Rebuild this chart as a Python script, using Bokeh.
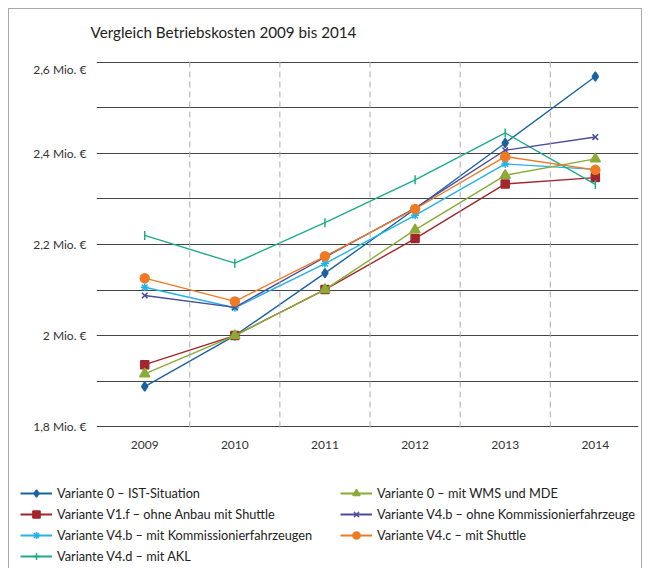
from bokeh.plotting import figure
from bokeh.models import (FixedTicker, Span, Legend, LegendItem, Label, Spacer)
from bokeh.layouts import column, row
from bokeh.embed import file_html
from bokeh.resources import INLINE
import math

years = [2009, 2010, 2011, 2012, 2013, 2014]

v0_ist = [1.888, 2.000, 2.137, 2.278, 2.423, 2.569]
v0_wms = [1.916, 2.000, 2.101, 2.232, 2.352, 2.388]
v1f_shuttle = [1.936, 2.000, 2.101, 2.213, 2.333, 2.347]
v4b_ohne = [2.088, 2.062, 2.172, 2.280, 2.407, 2.436]
v4b_mit = [2.106, 2.061, 2.158, 2.264, 2.377, 2.365]
v4c_shuttle = [2.126, 2.075, 2.174, 2.278, 2.393, 2.364]
v4d_akl = [2.220, 2.159, 2.248, 2.342, 2.445, 2.332]

y_ticks = [1.8, 2.0, 2.2, 2.4, 2.6]
y_tick_labels = ["1,8 Mio. €", "2 Mio. €", "2,2 Mio. €", "2,4 Mio. €", "2,6 Mio. €"]
y_grid = [1.8, 1.9, 2.0, 2.1, 2.2, 2.3, 2.4, 2.5, 2.6]

title_text = "Vergleich Betriebskosten 2009 bis 2014"

# name, values, colour, chart marker, size, angle, legend marker
series = [
    ("Variante 0 – IST-Situation", v0_ist, "#1b62a0", "diamond", 9, 0, "diamond"),
    ("Variante V1.f – ohne Anbau mit Shuttle", v1f_shuttle, "#a3262c", "square", 8, 0, "square"),
    ("Variante V4.b – mit Kommissionierfahrzeugen", v4b_mit, "#25b2e8", "asterisk", 8, 0, "asterisk"),
    ("Variante V4.d – mit AKL", v4d_akl, "#1fab8c", "dash", 9, math.pi / 2, "cross"),
    ("Variante 0 – mit WMS und MDE", v0_wms, "#8bab36", "triangle", 10, 0, "triangle"),
    ("Variante V4.b – ohne Kommissionierfahrzeuge", v4b_ohne, "#4b4a9e", "x", 8, 0, "x"),
    ("Variante V4.c – mit Shuttle", v4c_shuttle, "#f07a24", "circle", 9, 0, "circle"),
]

FONT = "Lato"
BORDER = "1px solid #a8a8a8"


def blank_fig(height, styles):
    f = figure(width=634, height=height, output_backend="svg", toolbar_location=None,
               x_range=(0, 1), y_range=(0, 1), x_axis_type=None, y_axis_type=None,
               min_border=0)
    f.styles = styles
    f.frame_align = False
    f.outline_line_color = None
    f.grid.grid_line_color = None
    f.background_fill_color = "white"
    f.border_fill_color = "white"
    return f


# title strip
p0 = blank_fig(53, {"border-left": BORDER, "border-top": BORDER, "border-right": BORDER,
                    "box-sizing": "border-box"})
p0.add_layout(Label(x=81, y=31, x_units="screen", y_units="screen", text=title_text,
                    text_font=FONT, text_font_size="15.2px", text_color="#222222",
                    text_baseline="middle", text_align="left"))

# main chart
p = figure(width=634, height=409, output_backend="svg", toolbar_location=None,
           x_range=(2008.465, 2014.479), y_range=(1.798, 2.602),
           min_border_left=87, min_border_right=5, min_border_top=0,
           min_border_bottom=43)
p.styles = {"border-left": BORDER, "border-right": BORDER, "box-sizing": "border-box"}
p.frame_align = False
p.outline_line_color = None
p.background_fill_color = "white"
p.border_fill_color = "white"

p.yaxis.ticker = FixedTicker(ticks=y_ticks)
p.yaxis.major_label_overrides = {t: l for t, l in zip(y_ticks, y_tick_labels)}
p.yaxis.axis_line_color = None
p.yaxis.major_tick_line_color = None
p.yaxis.minor_tick_line_color = None
p.yaxis.major_label_standoff = 4
p.yaxis.major_label_text_font = FONT
p.yaxis.major_label_text_font_size = "12px"
p.yaxis.major_label_text_color = "#333333"

p.xaxis.ticker = FixedTicker(ticks=years)
p.xaxis.major_label_overrides = {y: str(y) for y in years}
p.xaxis.axis_line_color = None
p.xaxis.major_tick_line_color = None
p.xaxis.minor_tick_line_color = None
p.xaxis.major_label_standoff = 7
p.xaxis.major_label_text_font = FONT
p.xaxis.major_label_text_font_size = "12px"
p.xaxis.major_label_text_color = "#333333"

p.xgrid.grid_line_color = None
p.ygrid.ticker = FixedTicker(ticks=y_grid)
p.ygrid.grid_line_color = "#444444"
p.ygrid.grid_line_width = 1

for yr in years[:-1]:
    p.add_layout(Span(location=yr + 0.5, dimension="height", line_color="#aaaaaa",
                      line_dash="6 4", line_width=1))

# legend strip
p2 = blank_fig(98, {"border-left": BORDER, "border-right": BORDER, "box-sizing": "border-box"})

items = []
for name, vals, color, marker, size, ang, lmarker in series:
    p.line(years, vals, line_color=color, line_width=1.4)
    p.scatter(years, vals, marker=marker, size=size, angle=ang,
              fill_color=color, line_color=color, line_width=1.5)
    # proxy renderers (outside the strip's visible range) for the legend glyphs
    l2 = p2.line([-5, -4], [-5, -5], line_color=color, line_width=1.8)
    s2 = p2.scatter([-5], [-5], marker=lmarker, size=size, fill_color=color,
                    line_color=color, line_width=1.5)
    items.append(LegendItem(label=name, renderers=[l2, s2]))


def make_legend(its, loc):
    return Legend(items=its, location=loc, orientation="vertical",
                  background_fill_alpha=0, border_line_color=None,
                  label_text_font=FONT, label_text_font_size="12.75px",
                  label_text_color="#222222", glyph_width=32, glyph_height=18,
                  label_height=18, label_standoff=5, spacing=3,
                  padding=0, margin=0)


p2.add_layout(make_legend(items[:4], (11, 3)), "center")
p2.add_layout(make_legend(items[4:], (331, 24)), "center")

page = row(Spacer(width=8), column(Spacer(height=8), p0, p, p2))
open("out.html", "w").write(file_html(page, INLINE))
